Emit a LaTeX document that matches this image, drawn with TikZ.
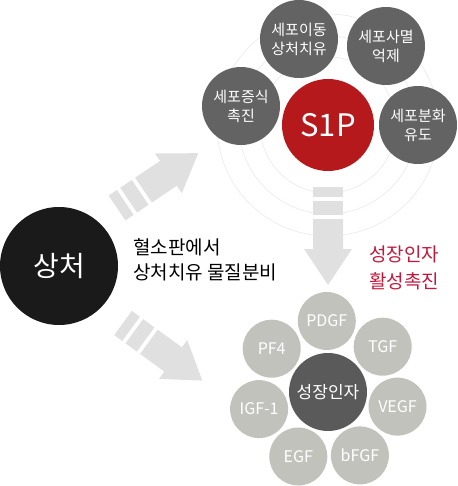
\documentclass[tikz,border=0pt]{standalone}
\usepackage{fontspec}
\setmainfont{Noto Sans CJK KR}
\definecolor{ring}{HTML}{EBEBEB}
\definecolor{arrowgray}{HTML}{E0E0E0}
\definecolor{darkcirc}{HTML}{636363}
\definecolor{centercirc}{HTML}{5A5A5A}
\definecolor{factorcirc}{HTML}{C2C2BD}
\definecolor{s1pred}{HTML}{B5191C}
\definecolor{redtext}{HTML}{C4173B}
\definecolor{woundblack}{HTML}{1A1A1A}
\tikzset{
  effect/.style={circle, fill=darkcirc, text=white, minimum size=78pt, inner sep=0pt, align=center, font=\fontsize{15}{19}\selectfont},
  factor/.style={circle, fill=factorcirc, text=white, minimum size=58pt, inner sep=0pt, font=\fontsize{16}{18}\selectfont},
  bigarrow/.style={fill=arrowgray, draw=none},
  ringline/.style={draw=ring, line width=0.7pt}
}
\begin{document}
\begin{tikzpicture}[x=1pt,y=-1pt]
\useasboundingbox (0,0) rectangle (457,486);
% concentric rings around S1P
\coordinate (ringc) at (328,125);
\foreach \r in {68,89,111} { \draw[ringline] (ringc) circle[radius=\r pt]; }
% arrows
\foreach \sx/\sy/\ang in {117/208/34, 123/323/-36, 328/187/-90} {
  \begin{scope}[shift={(\sx,\sy)}, rotate=\ang]
    \fill[bigarrow] (0,-15) rectangle (10,15);
    \fill[bigarrow] (14,-15) rectangle (28,15);
    \fill[bigarrow] (32,-15) -- (62,-15) -- (62,-24) -- (98,0) -- (62,24) -- (62,15) -- (32,15) -- cycle;
  \end{scope}
}
% wound
\node[circle, fill=woundblack, text=white, minimum size=118pt, inner sep=0pt, font=\fontsize{28}{32}\selectfont] (wound) at (59,266) {상처};
\node[anchor=west, align=left, font=\fontsize{19}{25}\selectfont, inner sep=0pt] (release) at (133,260) {혈소판에서\\상처치유 물질분비};
\node[align=center, text=redtext, font=\fontsize{19}{27}\selectfont, inner sep=0pt] (activate) at (404,268) {성장인자\\활성촉진};
% S1P cluster
\node[effect] (prolif) at (241,106) {세포증식\\촉진};
\node[effect] (migr) at (299,39) {세포이동\\상처치유};
\node[effect] (apop) at (386,46) {세포사멸\\억제};
\node[effect] (diff) at (418,125) {세포분화\\유도};
\node[circle, fill=s1pred, text=white, minimum size=92pt, inner sep=0pt, font=\fontsize{31}{34}\selectfont] (s1p) at (328,125) {S1P};
% growth factor cluster
\node[factor] (pdgf) at (326.8,321.0) {PDGF};
\node[factor] (tgf) at (382.7,346.7) {TGF};
\node[factor] (vegf) at (397.5,406.6) {VEGF};
\node[factor] (bfgf) at (359.9,455.4) {bFGF};
\node[factor] (egf) at (298.3,456.5) {EGF};
\node[factor] (igf) at (259.1,409.1) {IGF-1};
\node[factor] (pf4) at (271.7,348.7) {PF4};
\node[circle, fill=centercirc, text=white, minimum size=78pt, inner sep=0pt, font=\fontsize{17}{20}\selectfont] (gf) at (328,392) {성장인자};
\end{tikzpicture}
\end{document}
